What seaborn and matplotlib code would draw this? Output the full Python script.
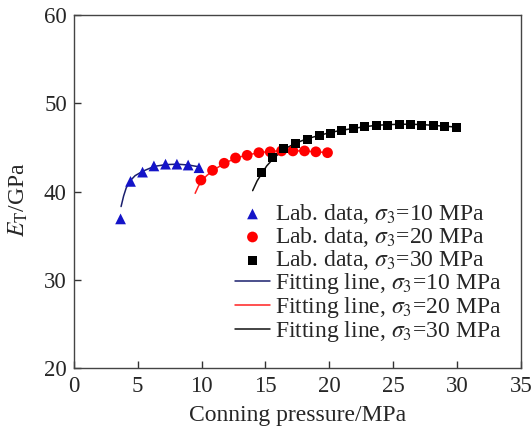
import matplotlib
matplotlib.use("Agg")
import matplotlib.pyplot as plt
import seaborn as sns

# Lab measurements: tangent modulus vs confining pressure for three sigma_3 levels
p10 = [3.66, 4.44, 5.38, 6.27, 7.18, 8.07, 8.95, 9.80]
e10 = [36.9, 41.15, 42.2, 42.9, 43.1, 43.1, 43.0, 42.7]

p20 = [9.95, 10.86, 11.77, 12.66, 13.57, 14.49, 15.37, 16.26, 17.15, 18.06, 18.95, 19.86]
e20 = [41.3, 42.4, 43.2, 43.8, 44.1, 44.4, 44.5, 44.6, 44.6, 44.6, 44.5, 44.4]

p30 = [14.7, 15.56, 16.44, 17.38, 18.3, 19.2, 20.07, 20.98, 21.87, 22.79, 23.7,
       24.56, 25.47, 26.36, 27.25, 28.14, 29.05, 29.99]
e30 = [42.1, 43.8, 44.9, 45.4, 45.95, 46.3, 46.6, 46.9, 47.1, 47.35, 47.45,
       47.5, 47.6, 47.6, 47.5, 47.45, 47.4, 47.3]

# Fitted curves
fp10 = [3.7, 3.9, 4.1, 4.4, 4.8, 5.4, 6.3, 7.2, 8.1, 9.0, 9.8]
fe10 = [38.3, 39.5, 40.4, 41.2, 41.8, 42.3, 42.85, 43.05, 43.1, 43.0, 42.8]

fp20 = [9.5, 9.75, 10.0, 10.4, 10.9, 11.8, 12.7, 13.6, 14.5, 15.4, 16.3, 17.2, 18.1, 19.0, 19.9]
fe20 = [39.8, 40.6, 41.2, 41.8, 42.4, 43.2, 43.8, 44.15, 44.4, 44.55, 44.62, 44.62, 44.58, 44.5, 44.4]

fp30 = [14.0, 14.35, 14.7, 15.1, 15.6, 16.4, 17.4, 18.3, 19.2, 20.1, 21.0, 21.9,
        22.8, 23.7, 24.6, 25.5, 26.4, 27.3, 28.1, 29.0, 30.0]
fe30 = [40.1, 41.2, 42.0, 42.9, 43.7, 44.75, 45.5, 46.0, 46.35, 46.7, 46.95, 47.15,
        47.35, 47.5, 47.58, 47.62, 47.62, 47.58, 47.5, 47.4, 47.3]

lab_labels = [r"Lab. data, $\sigma_3$=10 MPa", r"Lab. data, $\sigma_3$=20 MPa",
              r"Lab. data, $\sigma_3$=30 MPa"]
fit_labels = [r"Fitting line, $\sigma_3$=10 MPa", r"Fitting line, $\sigma_3$=20 MPa",
              r"Fitting line, $\sigma_3$=30 MPa"]

sns.set_theme(style="ticks")
plt.rcParams["font.family"] = ["Liberation Serif", "DejaVu Serif"]
plt.rcParams["mathtext.fontset"] = "stix"

fig = plt.figure(figsize=(5.31, 4.28), dpi=100)
ax = fig.add_axes([0.139, 0.140, 0.842, 0.825])

marker_colors = ["#1414c8", "#ff0000", "#000000"]
line_colors = ["#1a1f6e", "#ff2020", "#111111"]
markers = ["^", "o", "s"]
sizes = [60, 60, 42]

for (fx, fy), c, lab in zip([(fp10, fe10), (fp20, fe20), (fp30, fe30)], line_colors, fit_labels):
    sns.lineplot(x=fx, y=fy, ax=ax, color=c, lw=1.1, label=lab, sort=False, zorder=2)

for (x, y), c, m, s, lab in zip([(p10, e10), (p20, e20), (p30, e30)], marker_colors,
                                 markers, sizes, lab_labels):
    sns.scatterplot(x=x, y=y, ax=ax, color=c, marker=m, s=s, edgecolor="none",
                    label=lab, zorder=3)

ax.set_xlim(0, 35)
ax.set_ylim(20, 60)
ax.set_xticks(range(0, 36, 5))
ax.set_yticks(range(20, 61, 10))
ax.set_xlabel("Conning pressure/MPa", fontsize=17)
ax.set_ylabel(r"$E_\mathrm{T}$/GPa", fontsize=17)
ax.xaxis.set_label_coords(0.5, -0.105)
ax.yaxis.set_label_coords(-0.097, 0.476)
ax.tick_params(axis="both", direction="in", labelsize=16.5, length=5, width=1,
               color="#333333", top=False, right=False)
ax.tick_params(axis="x", pad=6)
ax.tick_params(axis="y", pad=5)
for sp in ax.spines.values():
    sp.set_color("#444444")
    sp.set_linewidth(1.0)

h, l = ax.get_legend_handles_labels()
order = lab_labels + fit_labels
hm = dict(zip(l, h))
ax.legend([hm[k] for k in order], order, loc="upper left", bbox_to_anchor=(0.36, 0.47),
          frameon=False, fontsize=17, handlelength=1.5, handletextpad=0.2,
          labelspacing=-0.04, borderaxespad=0, borderpad=0)

fig.savefig("out.png", dpi=100)
